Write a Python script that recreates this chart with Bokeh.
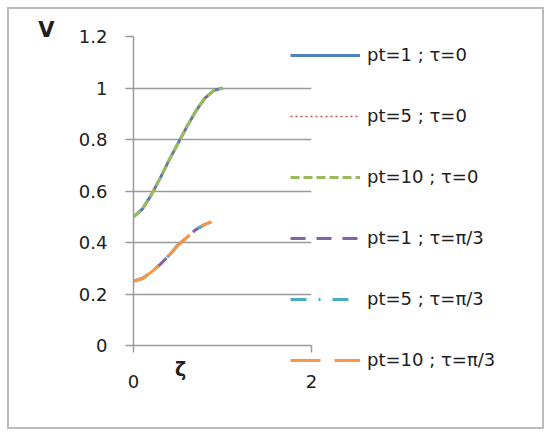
from bokeh.plotting import figure
from bokeh.models import Legend, LegendItem, Label, FixedTicker
from bokeh.embed import file_html
from bokeh.resources import INLINE

# Data
zeta_tau0 = [0.0, 0.1, 0.2, 0.3, 0.4, 0.5, 0.6, 0.7, 0.8, 0.9, 1.0]
v_tau0 = [0.50, 0.53, 0.585, 0.65, 0.72, 0.785, 0.85, 0.91, 0.96, 0.99, 1.0]
zeta_tau_pi3 = [0.0, 0.1, 0.2, 0.3, 0.4, 0.5, 0.6, 0.7, 0.8, 0.875]
v_tau_pi3 = [0.25, 0.26, 0.285, 0.315, 0.35, 0.39, 0.42, 0.45, 0.47, 0.48]

series_labels = ["pt=1 ; τ=0", "pt=5 ; τ=0", "pt=10 ; τ=0",
                 "pt=1 ; τ=π/3", "pt=5 ; τ=π/3", "pt=10 ; τ=π/3"]
series_colors = ["#4F81BD", "#C0504D", "#9BBB59", "#8064A2", "#4BACC6", "#F79646"]
series_dash = ["solid", "2 3", "9 4", "15 11", "16 12 2 12", "30 14"]
series_width = [3, 1.5, 3, 3, 3, 3]
series_x = [zeta_tau0, zeta_tau0, zeta_tau0, zeta_tau_pi3, zeta_tau_pi3, zeta_tau_pi3]
series_y = [v_tau0, v_tau0, v_tau0, v_tau_pi3, v_tau_pi3, v_tau_pi3]

x_ticks = [0, 2]
y_ticks = [0, 0.2, 0.4, 0.6, 0.8, 1.0, 1.2]

FONT = "DejaVu Sans"
TXT = "#202020"
GRAY = "#9A9A9A"

p = figure(frame_width=178, frame_height=309, x_range=(0, 2), y_range=(0, 1.2),
           output_backend="svg", toolbar_location=None,
           min_border_left=124, min_border_right=0,
           min_border_top=27, min_border_bottom=86)
p.styles = {"border": "2px solid #BBBBBB", "margin-left": "7px", "margin-top": "7px",
            "width": "537px", "height": "422px", "overflow": "hidden"}
p.outline_line_color = None
p.background_fill_color = "white"
p.border_fill_color = "white"

# axes
p.xaxis.ticker = FixedTicker(ticks=x_ticks)
p.yaxis.ticker = FixedTicker(ticks=y_ticks)
p.yaxis.major_label_overrides = {0: "0", 0.2: "0.2", 0.4: "0.4", 0.6: "0.6",
                                 0.8: "0.8", 1.0: "1", 1.2: "1.2"}
for ax in (p.xaxis, p.yaxis):
    ax.axis_line_color = GRAY
    ax.axis_line_width = 1.5
    ax.major_tick_line_color = GRAY
    ax.major_tick_line_width = 1.5
    ax.major_tick_in = 0
    ax.minor_tick_line_color = None
    ax.major_label_text_font = FONT
    ax.major_label_text_font_size = "18px"
    ax.major_label_text_color = TXT
p.yaxis.major_tick_out = 8
p.yaxis.major_label_standoff = 18
p.xaxis.major_tick_out = 7
p.xaxis.major_label_standoff = 22

p.xgrid.grid_line_color = None
p.ygrid.grid_line_color = GRAY
p.ygrid.grid_line_width = 1.5

renderers = []
for xs, ys, c, d, w in zip(series_x, series_y, series_colors, series_dash, series_width):
    r = p.line(xs, ys, line_color=c, line_dash=d, line_width=w)
    renderers.append(r)

legend = Legend(items=[LegendItem(label=l, renderers=[r]) for l, r in zip(series_labels, renderers)],
                location=(-21, -25), orientation="vertical",
                glyph_width=70, glyph_height=20, label_height=20, spacing=40,
                label_standoff=7, padding=0, margin=0,
                label_text_font=FONT, label_text_font_size="18px", label_text_color=TXT,
                border_line_alpha=0, background_fill_alpha=0)
p.add_layout(legend, "right")

p.add_layout(Label(x=-0.98, y=1.227, text="V", text_font=FONT, text_font_size="21px",
                   text_font_style="bold", text_color=TXT,
                   text_align="center", text_baseline="middle"), "left")
p.add_layout(Label(x=0.53, y=-0.093, text="ζ", text_font=FONT, text_font_size="19px",
                   text_font_style="bold", text_color=TXT,
                   text_align="center", text_baseline="middle"), "below")

open("out.html", "w").write(file_html(p, INLINE))
